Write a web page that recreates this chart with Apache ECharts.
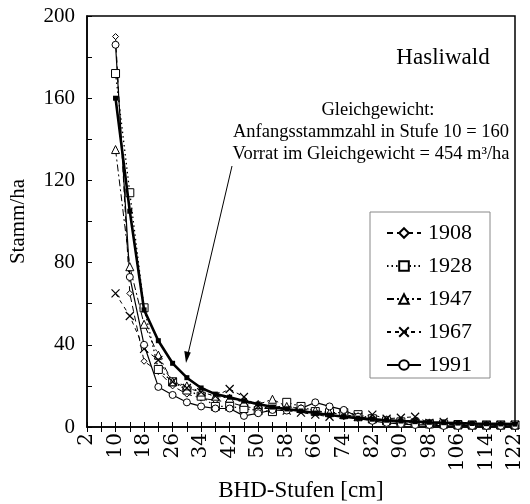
<!DOCTYPE html>
<html><head><meta charset="utf-8">
<script src="https://cdn.jsdelivr.net/npm/echarts@6/dist/echarts.min.js"></script>
<style>html,body{margin:0;padding:0;background:#fff}#c{width:530px;height:504px}</style>
</head><body><div id="c"></div>
<script>
const classes = [10,14,18,22,26,30,34,38,42,46,50,54,58,62,66,70,74,78,82,86,90,94,98,102,106,110,114,118,122];
const eqValues = [160,105,57,42,31,24,19,16,14.5,12.6,11.2,9.7,8.8,7.8,6.8,5.8,5,4.3,3.8,3.3,2.9,2.6,2.3,2.1,1.9,1.7,1.6,1.5,1.4];
const v1908 = [190,65,32,27,20,16,14,13,12,10,9,9,11,8,7,6,5,4,3,3,2,1.5,1.5,1,1,0.5,0.5,0.5,0.5];
const v1928 = [172,114,58,28,22,18,15,10,10,9,8,7.5,12,10,7.5,7,7,6,4,3,2.5,2,1.5,1.5,1.2,1,1,1,1];
const v1947 = [135,78,50,35,22,20,17,15,14,12,11,13.5,10,9,8,7,6,5,4,3.5,3,2.5,2,1.5,1,1,1,1,1];
const v1967 = [65,54,38,32.6,22,19,17,15,18.5,14.6,10,9,8,7,6,5,6,5,6,4,4.5,5,2,2.5,1,1,1,1,1];
const v1991 = [186,73,40,19.5,15.6,12,10,9,9,5.4,6.7,8.3,8,9,12,10,8.3,5,3,2,1.5,1,1,0.5,0.5,0.5,0.5,0.5,0.5];
const seriesNames = ['1908','1928','1947','1967','1991'];
const yTitle = 'Stamm/ha';
const xTitle = 'BHD-Stufen [cm]';
const forestName = 'Hasliwald';
const noteLines = ['Gleichgewicht:', 'Anfangsstammzahl in Stufe 10 = 160', 'Vorrat im Gleichgewicht = 454 m³/ha'];

const FONT = '"Liberation Serif", "DejaVu Serif", serif';
const WIDEFONT = '"DejaVu Serif", "Liberation Serif", serif';
const pair = arr => classes.map((c, i) => [c, arr[i]]);
const openItem = {color: '#fff', borderColor: '#000', borderWidth: 1};
const xPath = 'path://M0,0L10,10M10,0L0,10';

const chart = echarts.init(document.getElementById('c'), null, {renderer: 'canvas'});
chart.setOption({
  animation: false,
  backgroundColor: '#fff',
  grid: {left: 87, right: 15, top: 16, bottom: 77, containLabel: false, outerBoundsMode: 'none',
    show: true, borderColor: '#000', borderWidth: 1.5, backgroundColor: 'transparent'},
  legend: {
    data: seriesNames, orient: 'vertical', left: 370, top: 212, width: 120,
    padding: [10, 18, 2, 16], itemGap: 11, itemWidth: 34, itemHeight: 12,
    borderColor: '#888', borderWidth: 1, backgroundColor: '#fff',
    textStyle: {fontFamily: FONT, fontSize: 22, color: '#000', padding: [0, 0, 0, 2]}
  },
  xAxis: [{
    type: 'value', min: 2, max: 122, interval: 4,
    name: xTitle, nameLocation: 'middle', nameGap: 51,
    nameTextStyle: {fontFamily: FONT, fontSize: 23, color: '#000'},
    axisLine: {lineStyle: {color: '#000', width: 1.5}},
    axisTick: {show: true, inside: false, length: 5, lineStyle: {color: '#000'}},
    axisLabel: {rotate: 90, margin: 6, fontFamily: WIDEFONT, fontSize: 20, color: '#000',
      formatter: v => ((v - 2) % 8 === 0 ? String(v) : '')},
    splitLine: {show: false}
  }, {
    type: 'value', min: 2, max: 122, interval: 4, position: 'bottom',
    axisLine: {show: false}, axisLabel: {show: false}, splitLine: {show: false},
    axisTick: {show: true, inside: true, length: 5, lineStyle: {color: '#000'}}
  }],
  yAxis: {
    type: 'value', min: 0, max: 200, interval: 20,
    name: yTitle, nameLocation: 'middle', nameGap: 58, nameRotate: 90,
    nameTextStyle: {fontFamily: FONT, fontSize: 21, color: '#000'},
    axisLine: {show: true, lineStyle: {color: '#000', width: 1.5}},
    axisTick: {show: true, inside: true, length: 5, lineStyle: {color: '#000'}},
    axisLabel: {margin: 12, fontFamily: FONT, fontSize: 21, color: '#000',
      formatter: v => (v % 40 === 0 ? String(v) : '')},
    splitLine: {show: false}
  },
  series: [
    {name: 'Gleichgewicht', type: 'line', data: pair(eqValues), symbol: 'rect', symbolSize: 5,
      itemStyle: {color: '#000'}, lineStyle: {color: '#000', width: 2.6}, z: 5},
    {name: '1908', type: 'line', data: pair(v1908), symbol: 'diamond', symbolSize: 6,
      itemStyle: openItem, lineStyle: {color: '#000', width: 1, type: [6, 4]}},
    {name: '1928', type: 'line', data: pair(v1928), symbol: 'rect', symbolSize: 8,
      itemStyle: openItem, lineStyle: {color: '#000', width: 1.3, type: [1.5, 3]}},
    {name: '1947', type: 'line', data: pair(v1947), symbol: 'triangle', symbolSize: 8,
      itemStyle: openItem, lineStyle: {color: '#000', width: 1, type: [7, 3, 2, 3]}},
    {name: '1967', type: 'line', data: pair(v1967), symbol: xPath, symbolSize: 8,
      itemStyle: {color: 'none', borderColor: '#000', borderWidth: 1.2}, lineStyle: {color: '#000', width: 1, type: [4, 4]}},
    {name: '1991', type: 'line', data: pair(v1991), symbol: 'circle', symbolSize: 7,
      itemStyle: openItem, lineStyle: {color: '#000', width: 1.2}}
  ],
  graphic: [
    {type: 'text', style: {text: forestName, x: 443, y: 58, font: '23px ' + FONT, fill: '#000', align: 'center', verticalAlign: 'middle'}},
    {type: 'text', style: {text: noteLines[0], x: 378, y: 110, font: '18.5px ' + FONT, fill: '#000', align: 'center', verticalAlign: 'middle'}},
    {type: 'text', style: {text: noteLines[1], x: 371, y: 132, font: '18.5px ' + FONT, fill: '#000', align: 'center', verticalAlign: 'middle'}},
    {type: 'text', style: {text: noteLines[2], x: 371, y: 154, font: '18.5px ' + FONT, fill: '#000', align: 'center', verticalAlign: 'middle'}},
    {type: 'line', shape: {x1: 232, y1: 166, x2: 188, y2: 354}, style: {stroke: '#000', lineWidth: 1}},
    {type: 'polygon', shape: {points: [[186, 363], [184.3, 351], [190.8, 352.5]]}, style: {fill: '#000'}}
  ]
});
</script></body></html>
